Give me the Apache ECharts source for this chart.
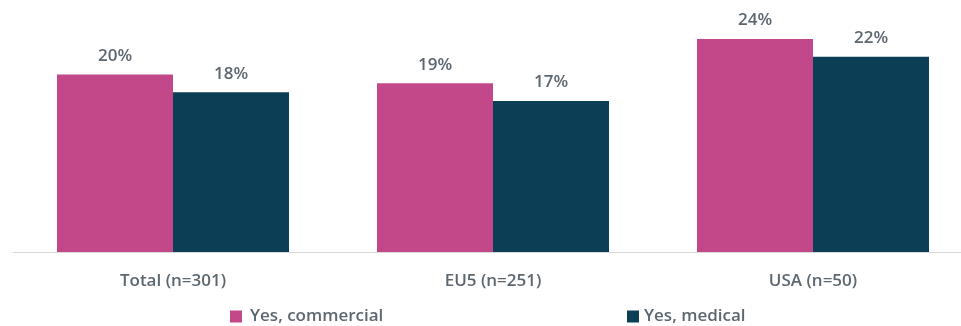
<!DOCTYPE html>
<html>
<head>
<meta charset="utf-8">
<script src="https://cdn.jsdelivr.net/npm/echarts@6/dist/echarts.min.js"></script>
<style>
  html, body { margin: 0; padding: 0; background: #ffffff; overflow: hidden; }
  /* the drawing surface runs a little past the right edge of the window */
  #chart { width: 973px; height: 326px; }
</style>
</head>
<body>
<div id="chart"></div>
<script>
// Share of respondents, by region
const categories = ['Total (n=301)', 'EU5 (n=251)', 'USA (n=50)'];
const commercial = [20, 19, 24];
const medical = [18, 17, 22];
const seriesNames = ['Yes, commercial', 'Yes, medical'];

const PINK = '#C2488A';
const TEAL = '#0C3E56';
const TEXT = '#5C6770';
const FONT = '"Open Sans", Lato, sans-serif';
const FS = 17;
const FW = 600;

const chart = echarts.init(document.getElementById('chart'), null, { renderer: 'canvas' });

const valueLabel = {
  show: true,
  position: 'top',
  distance: 10,
  formatter: p => p.value + '%',
  color: TEXT,
  fontFamily: FONT,
  fontSize: FS,
  fontWeight: FW
};

const legendText = pad => ({
  color: TEXT, fontFamily: FONT, fontSize: FS, fontWeight: FW, padding: [0, 0, 0, pad]
});

chart.setOption({
  animation: false,
  backgroundColor: '#ffffff',
  grid: { left: 13, right: 0, top: 3.4, bottom: 74, containLabel: false },
  xAxis: {
    type: 'category',
    data: categories,
    axisLine: { show: true, lineStyle: { color: '#D9D9D9', width: 1 } },
    axisTick: { show: false },
    axisLabel: { color: TEXT, fontFamily: FONT, fontSize: FS, fontWeight: FW, margin: 21 }
  },
  yAxis: {
    type: 'value',
    min: 0,
    max: 28,
    show: false,
    splitLine: { show: false }
  },
  legend: [
    {
      data: [seriesNames[0]],
      left: 225, top: 303,
      itemWidth: 12, itemHeight: 12,
      icon: 'rect',
      textStyle: legendText(3)
    },
    {
      data: [seriesNames[1]],
      left: 622, top: 303,
      itemWidth: 12, itemHeight: 12,
      icon: 'rect',
      textStyle: legendText(0)
    }
  ],
  series: [
    {
      name: seriesNames[0],
      type: 'bar',
      data: commercial,
      barGap: '0%',
      barCategoryGap: '27.5%',
      itemStyle: { color: PINK },
      label: valueLabel
    },
    {
      name: seriesNames[1],
      type: 'bar',
      data: medical,
      itemStyle: { color: TEAL },
      label: valueLabel
    }
  ]
});
</script>
</body>
</html>
